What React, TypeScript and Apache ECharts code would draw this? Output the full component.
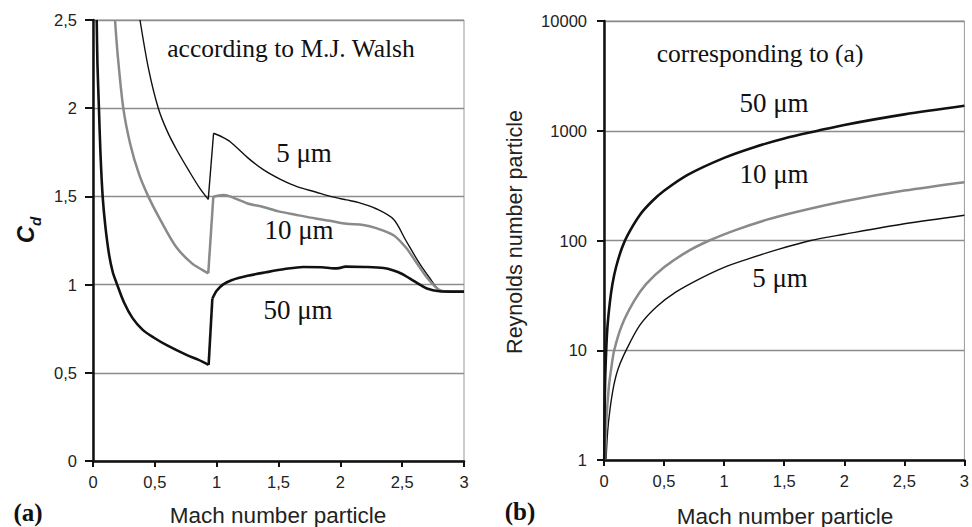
import React, { useEffect, useRef } from "react";
import * as echarts from "echarts";

// ---- Data ----
// (a) Drag coefficient Cd vs particle Mach number
const cd5um: [number, number][] = [
  [0.38, 2.5], [0.45, 2.22], [0.528, 2.0], [0.6, 1.87], [0.68, 1.76], [0.78, 1.64],
  [0.86, 1.55], [0.932, 1.483], [0.975, 1.858], [1.05, 1.835], [1.11, 1.81],
  [1.25, 1.72], [1.38, 1.65], [1.52, 1.595], [1.65, 1.555], [1.8, 1.525],
  [1.92, 1.5], [2.05, 1.48], [2.15, 1.465], [2.29, 1.43], [2.43, 1.37],
  [2.53, 1.25], [2.64, 1.12], [2.72, 1.04], [2.8, 0.97], [2.9, 0.96], [3, 0.96],
];
const cd10um: [number, number][] = [
  [0.178, 2.5], [0.2, 2.3], [0.245, 2.0], [0.3, 1.8], [0.37, 1.63], [0.447, 1.5],
  [0.55, 1.36], [0.676, 1.21], [0.8, 1.12], [0.88, 1.085], [0.932, 1.064],
  [0.973, 1.498], [1.05, 1.508], [1.107, 1.5], [1.25, 1.46], [1.377, 1.44],
  [1.5, 1.415], [1.647, 1.395], [1.8, 1.375], [1.916, 1.362], [2.05, 1.345],
  [2.185, 1.338], [2.29, 1.32], [2.43, 1.28], [2.53, 1.21], [2.62, 1.12],
  [2.7, 1.04], [2.8, 0.97], [2.9, 0.96], [3, 0.96],
];
const cd50um: [number, number][] = [
  [0.03, 2.5], [0.036, 2.25], [0.048, 2.0], [0.06, 1.75], [0.078, 1.5], [0.1, 1.33],
  [0.13, 1.17], [0.16, 1.07], [0.19, 1.01], [0.25, 0.9], [0.32, 0.81], [0.4, 0.745],
  [0.49, 0.7], [0.6, 0.655], [0.76, 0.6], [0.85, 0.575], [0.935, 0.545],
  [0.965, 0.92], [1.0, 0.965], [1.05, 1.0], [1.12, 1.025], [1.25, 1.05], [1.4, 1.07],
  [1.55, 1.088], [1.7, 1.1], [1.85, 1.098], [1.95, 1.092], [2.0, 1.095], [2.04, 1.102],
  [2.2, 1.1], [2.35, 1.094], [2.43, 1.08], [2.5, 1.06], [2.56, 1.035], [2.62, 1.01],
  [2.7, 0.978], [2.8, 0.962], [2.9, 0.96], [3, 0.96],
];

// (b) Particle Reynolds number vs particle Mach number
const re5um: [number, number][] = [
  [0.017, 1], [0.03, 1.8], [0.05, 2.9], [0.082, 4.8], [0.12, 6.9], [0.19, 10.3],
  [0.3, 17], [0.44, 25], [0.6, 34], [0.8, 45], [1.0, 57], [1.2, 68], [1.45, 83],
  [1.72, 100], [2.0, 114], [2.5, 142], [3, 170],
];
const re10um: [number, number][] = [
  [0.009, 1], [0.02, 2.3], [0.04, 4.6], [0.06, 6.8], [0.085, 10], [0.15, 17],
  [0.25, 28], [0.35, 40], [0.5, 57], [0.7, 80], [0.877, 100], [1.1, 125],
  [1.35, 154], [1.6, 182], [2.0, 228], [2.5, 285], [3, 340],
];
const re50um: [number, number][] = [
  [0.002, 1], [0.005, 2.8], [0.01, 5.6], [0.02, 11], [0.03, 17], [0.05, 28],
  [0.07, 40], [0.1, 57], [0.15, 86], [0.2, 114], [0.3, 172], [0.4, 228],
  [0.5, 284], [0.7, 398], [1.0, 566], [1.25, 708], [1.5, 850], [1.78, 1000],
  [2.0, 1130], [2.5, 1410], [3, 1690],
];

const machTicks = [0, 0.5, 1, 1.5, 2, 2.5, 3];

const SANS = "'Liberation Sans', Arial, sans-serif";
const SERIF = "'Liberation Serif', 'Times New Roman', serif";
const BLACK = "#111";
const GRAY = "#8a8a8a";
const GRID = "#8c8c8c";

const comma = (v: number) => String(v).replace(".", ",");

// split a curve at its shock jump (where Cd rises abruptly) so that
// smoothing does not round off the jump
function splitAtJump(data: [number, number][]) {
  let j = -1;
  for (let i = 0; i < data.length - 1; i++) {
    if (data[i + 1][1] - data[i][1] > 0.2) { j = i; break; }
  }
  if (j < 0) return { pre: data, jump: [] as [number, number][], post: [] as [number, number][] };
  return { pre: data.slice(0, j + 1), jump: data.slice(j, j + 2), post: data.slice(j + 1) };
}

export default function App() {
  const ref = useRef<HTMLDivElement>(null);
  useEffect(() => {
    if (!ref.current) return;
    const chart = echarts.init(ref.current, null, { renderer: "svg" });

    const xAxisBase = (gridIndex: number) => ({
      type: "value" as const,
      gridIndex,
      min: machTicks[0],
      max: machTicks[machTicks.length - 1],
      interval: 0.5,
      axisLine: { show: true, lineStyle: { color: BLACK, width: 2.5 } },
      axisTick: { show: true, inside: false, length: 6, lineStyle: { color: BLACK, width: 2 } },
      axisLabel: {
        formatter: (v: number) => comma(v),
        fontSize: 16.5,
        color: "#222",
        fontFamily: SANS,
        margin: 12,
      },
      splitLine: { show: false },
    });

    const lineSeries = (name: string, xi: number, data: [number, number][], color: string, width: number, z: number, smooth: number) => ({
      name,
      type: "line",
      xAxisIndex: xi,
      yAxisIndex: xi,
      data,
      showSymbol: false,
      smooth,
      lineStyle: { color, width, join: "round" },
      z,
    });

    const cdSeries = (name: string, data: [number, number][], color: string, width: number, z: number) => {
      const s = splitAtJump(data);
      return [
        lineSeries(name, 0, s.pre, color, width, z, 0.3),
        lineSeries(name, 0, s.jump, color, width, z, 0),
        lineSeries(name, 0, s.post, color, width, z, 0.3),
      ];
    };

    const option: any = {
      animation: false,
      backgroundColor: "#fff",
      grid: [
        { left: 93, top: 20, width: 371, height: 441, show: true, borderColor: "#999", borderWidth: 1 },
        { left: 604, top: 21, width: 364, height: 439, show: true, borderColor: "#999", borderWidth: 1 },
      ],
      xAxis: [xAxisBase(0), xAxisBase(1)],
      yAxis: [
        {
          type: "value",
          gridIndex: 0,
          min: 0,
          max: 2.5,
          interval: 0.5,
          axisLine: { show: true, lineStyle: { color: BLACK, width: 2.5 } },
          axisTick: { show: true, inside: false, length: 8, lineStyle: { color: BLACK, width: 2 } },
          axisLabel: { formatter: (v: number) => comma(v), fontSize: 16.5, color: "#222", fontFamily: SANS, margin: 16 },
          splitLine: { show: true, lineStyle: { color: GRID, width: 1.3 } },
        },
        {
          type: "log",
          logBase: 10,
          gridIndex: 1,
          min: 1,
          max: 10000,
          axisLine: { show: true, lineStyle: { color: BLACK, width: 2.5 } },
          axisTick: { show: true, inside: false, length: 7, lineStyle: { color: BLACK, width: 2 } },
          axisLabel: { formatter: (v: number) => String(Math.round(v)), fontSize: 16.5, color: "#222", fontFamily: SANS, margin: 17 },
          splitLine: { show: true, lineStyle: { color: GRID, width: 1.3 } },
          minorTick: { show: false },
          minorSplitLine: { show: false },
        },
      ],
      series: [
        ...cdSeries("Cd 5 µm", cd5um, BLACK, 1.4, 3),
        ...cdSeries("Cd 10 µm", cd10um, GRAY, 2.5, 3),
        ...cdSeries("Cd 50 µm", cd50um, BLACK, 2.6, 4),
        lineSeries("Re 5 µm", 1, re5um, BLACK, 1.4, 3, 0.3),
        lineSeries("Re 10 µm", 1, re10um, GRAY, 2.5, 3, 0.3),
        lineSeries("Re 50 µm", 1, re50um, BLACK, 2.6, 4, 0.3),
      ],
      graphic: [
        // axis titles
        {
          type: "text", x: 25, y: 230, rotation: Math.PI / 2,
          style: {
            text: "{c|C}{d|d}",
            align: "center", verticalAlign: "middle",
            rich: {
              c: { fontSize: 24, fontWeight: "bold", fontStyle: "italic", fontFamily: SANS, fill: BLACK, lineHeight: 28 },
              d: { fontSize: 15, fontWeight: "bold", fontStyle: "italic", fontFamily: SANS, fill: BLACK, lineHeight: 28, verticalAlign: "bottom", padding: [0, 0, -4, 0] },
            },
          },
        },
        { type: "text", x: 278, y: 515, style: { text: "Mach number particle", fontSize: 22.5, fontFamily: SANS, fill: "#222", align: "center", verticalAlign: "middle" } },
        { type: "text", x: 785, y: 516, style: { text: "Mach number particle", fontSize: 22.5, fontFamily: SANS, fill: "#222", align: "center", verticalAlign: "middle" } },
        { type: "text", x: 515, y: 232, rotation: Math.PI / 2, style: { text: "Reynolds number particle", fontSize: 21.5, fontFamily: SANS, fill: "#222", align: "center", verticalAlign: "middle" } },
        // panel letters
        { type: "text", x: 28, y: 512, style: { text: "(a)", fontSize: 25, fontWeight: "bold", fontFamily: SERIF, fill: BLACK, align: "center", verticalAlign: "middle" } },
        { type: "text", x: 520, y: 511, style: { text: "(b)", fontSize: 25, fontWeight: "bold", fontFamily: SERIF, fill: BLACK, align: "center", verticalAlign: "middle" } },
        // annotations (a)
        { type: "text", x: 291, y: 48, style: { text: "according to M.J. Walsh", fontSize: 25.5, fontFamily: SERIF, fill: BLACK, align: "center", verticalAlign: "middle" } },
        { type: "text", x: 304, y: 153, style: { text: "5 μm", fontSize: 27, fontFamily: SERIF, fill: BLACK, align: "center", verticalAlign: "middle" } },
        { type: "text", x: 299, y: 230, style: { text: "10 μm", fontSize: 27, fontFamily: SERIF, fill: BLACK, align: "center", verticalAlign: "middle" } },
        { type: "text", x: 298, y: 310, style: { text: "50 μm", fontSize: 27, fontFamily: SERIF, fill: BLACK, align: "center", verticalAlign: "middle" } },
        // annotations (b)
        { type: "text", x: 760, y: 53, style: { text: "corresponding to (a)", fontSize: 25.5, fontFamily: SERIF, fill: BLACK, align: "center", verticalAlign: "middle" } },
        { type: "text", x: 774, y: 103, style: { text: "50 μm", fontSize: 27, fontFamily: SERIF, fill: BLACK, align: "center", verticalAlign: "middle" } },
        { type: "text", x: 774, y: 174, style: { text: "10 μm", fontSize: 27, fontFamily: SERIF, fill: BLACK, align: "center", verticalAlign: "middle" } },
        { type: "text", x: 780, y: 278, style: { text: "5 μm", fontSize: 27, fontFamily: SERIF, fill: BLACK, align: "center", verticalAlign: "middle" } },
      ],
    };

    chart.setOption(option);
    return () => chart.dispose();
  }, []);

  return (
    <div
      ref={ref}
      style={{ position: "fixed", left: 0, top: 0, width: 972, height: 527, background: "#fff" }}
    />
  );
}
